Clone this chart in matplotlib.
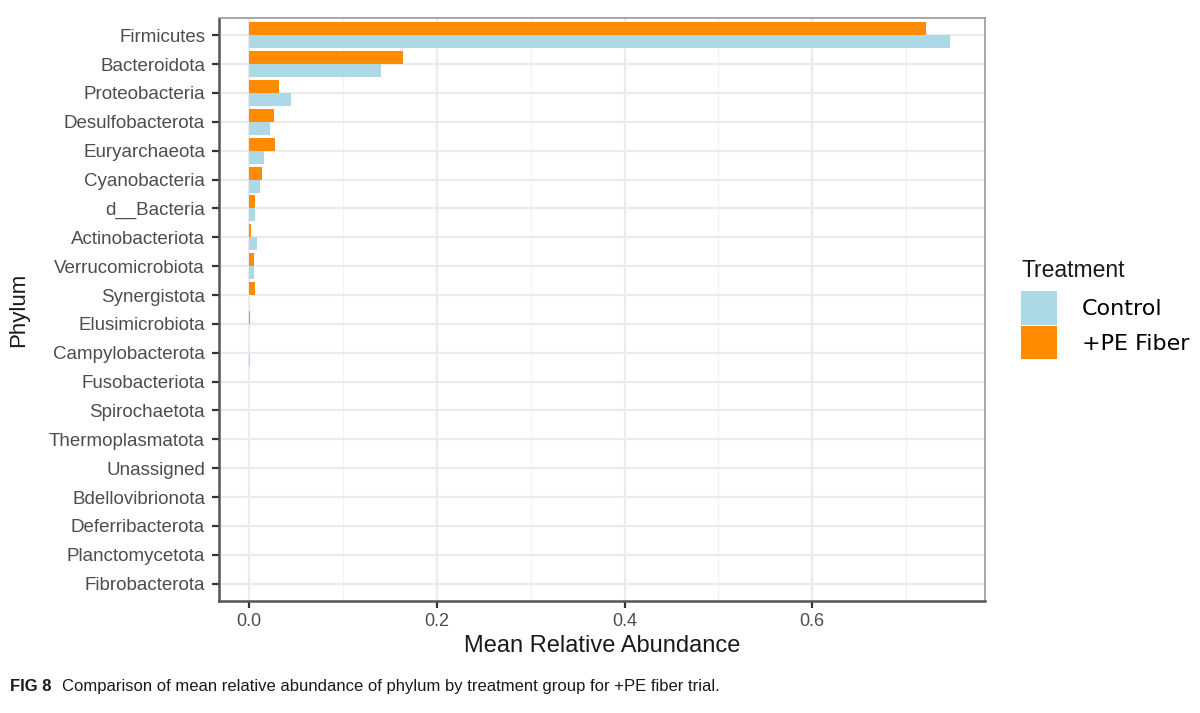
import numpy as np
import matplotlib
matplotlib.use("Agg")
import matplotlib.pyplot as plt
from matplotlib.patches import Patch

# phylum names, top to bottom as drawn
phyla = ["Firmicutes", "Bacteroidota", "Proteobacteria", "Desulfobacterota",
         "Euryarchaeota", "Cyanobacteria", "d__Bacteria", "Actinobacteriota",
         "Verrucomicrobiota", "Synergistota", "Elusimicrobiota", "Campylobacterota",
         "Fusobacteriota", "Spirochaetota", "Thermoplasmatota", "Unassigned",
         "Bdellovibrionota", "Deferribacterota", "Planctomycetota", "Fibrobacterota"]

# mean relative abundance
control = [0.747, 0.141, 0.0447, 0.0227, 0.0156, 0.0114, 0.0067, 0.0085,
           0.0050, 0.0004, 0.0001, 0.0008, 0.0001, 0.0, 0.0, 0.0, 0.0, 0.0, 0.0, 0.0]
pe_fiber = [0.721, 0.164, 0.0316, 0.0262, 0.0273, 0.0138, 0.0060, 0.0025,
            0.0050, 0.0060, 0.0010, 0.0003, 0.0002, 0.0, 0.0, 0.0, 0.0, 0.0, 0.0, 0.0]

treatments = ["Control", "+PE Fiber"]
colors = ["#ADD8E6", "#FF8C00"]

plt.rcParams["font.family"] = ["Liberation Sans", "DejaVu Sans"]

fig = plt.figure(figsize=(12, 7.13), dpi=100)
ax = fig.add_axes([0.1825, 0.157, 0.6383, 0.818])

# categories laid out from top to bottom
y = np.arange(len(phyla))[::-1]
h = 0.45
ax.barh(y - h / 2, control, height=h, color=colors[0], zorder=3)
ax.barh(y + h / 2, pe_fiber, height=h, color=colors[1], zorder=3)

ax.set_yticks(y)
ax.set_yticklabels(phyla, fontsize=13.5, color="#4D4D4D")
ax.set_ylim(-0.6, len(phyla) - 0.4)

ax.set_xlim(-0.032, 0.784)
ax.set_xticks([0.0, 0.2, 0.4, 0.6])
ax.set_xticklabels(["0.0", "0.2", "0.4", "0.6"], fontsize=13, color="#4D4D4D")
ax.set_xticks([0.1, 0.3, 0.5, 0.7], minor=True)

ax.grid(True, which="major", color="#EBEBEB", linewidth=1.6, zorder=0)
ax.grid(True, which="minor", axis="x", color="#F3F3F3", linewidth=0.9, zorder=0)
ax.tick_params(axis="both", which="major", length=5, width=1.6, color="#333333")
ax.tick_params(axis="x", which="minor", length=0)
ax.tick_params(axis="y", pad=5)

for side in ["left", "bottom"]:
    ax.spines[side].set_color("#555555")
    ax.spines[side].set_linewidth(1.8)
for side in ["top", "right"]:
    ax.spines[side].set_color("#999999")
    ax.spines[side].set_linewidth(1.2)

ax.set_xlabel("Mean Relative Abundance", fontsize=17, color="#1A1A1A", labelpad=4)
ax.set_ylabel("Phylum", fontsize=16, color="#1A1A1A")
ax.yaxis.set_label_coords(-0.248, 0.5)

# legend title placed on its own to match the gap above the keys
fig.text(0.851, 0.621, "Treatment", fontsize=16.5, color="#1A1A1A", va="center")
handles = [Patch(facecolor=c, edgecolor="none") for c in colors]
fig.legend(handles, treatments, loc="upper left",
           bbox_to_anchor=(0.851, 0.592), frameon=False,
           prop={"family": "DejaVu Sans", "size": 16},
           handlelength=1.62, handleheight=1.95, handletextpad=1.1,
           labelspacing=0.05, borderaxespad=0, borderpad=0)

fig.text(0.008, 0.031, "FIG 8", fontsize=12, fontweight="bold",
         family=["Liberation Sans Narrow", "Liberation Sans"], color="#1A1A1A")
fig.text(0.052, 0.031, "Comparison of mean relative abundance of phylum by treatment group for +PE fiber trial.",
         fontsize=12, family=["Liberation Sans Narrow", "Liberation Sans"], color="#1A1A1A")

fig.savefig("out.png", dpi=100)
